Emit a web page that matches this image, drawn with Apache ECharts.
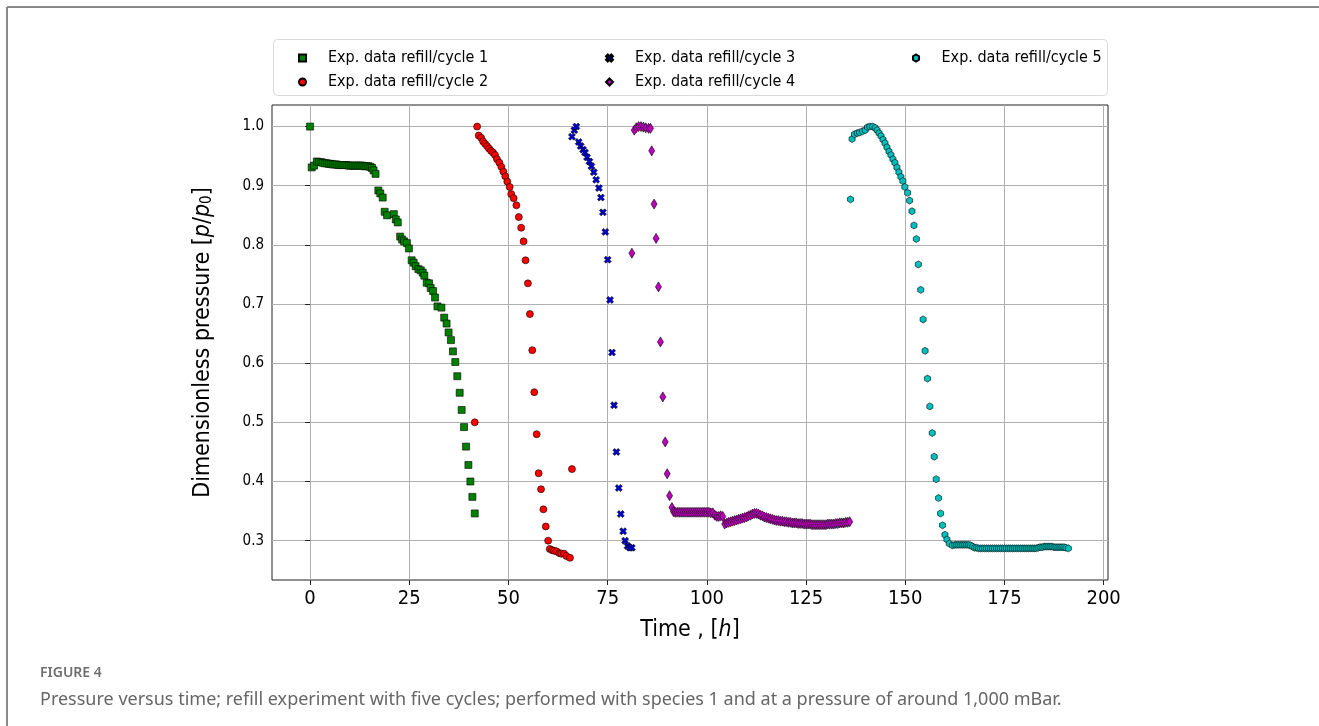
<!DOCTYPE html>
<html>
<head>
<meta charset="utf-8">
<script src="https://cdn.jsdelivr.net/npm/echarts@6/dist/echarts.min.js"></script>
<style>
  html, body { margin: 0; padding: 0; background: #fff; }
  #chart { width: 1319px; height: 726px; }
</style>
</head>
<body>
<div id="chart"></div>
<script>
// refill cycles, time [h] and p/p0
const cycle1T = [0, 0.4, 1.0, 1.7, 2.2, 2.7, 3.2, 3.7, 4.2, 4.7, 5.2, 5.7, 6.2, 6.7, 7.2, 7.7, 8.2, 8.7, 9.2, 9.7, 10.2, 10.7, 11.2, 11.7, 12.2, 12.7, 13.2, 13.7, 14.2, 14.7, 15.2, 15.6, 16.0, 16.5,
  17.2, 17.7, 18.3, 18.8, 19.4, 21.1, 21.6, 22.1, 22.7, 23.2, 23.7, 24.4, 24.9, 25.6, 26.1, 26.6, 27.3, 27.9, 28.4, 28.8, 29.4, 30.0, 30.4, 31.0, 31.5, 32.1, 33.1, 33.8,
  34.4, 34.9, 35.5, 36.0, 36.6, 37.1, 37.7, 38.2, 38.8, 39.3, 39.9, 40.4, 40.9, 41.5];
const cycle1P = [1.000, 0.931, 0.934, 0.941, 0.940, 0.940, 0.939, 0.938, 0.938, 0.937, 0.937, 0.936, 0.936, 0.936, 0.935, 0.935, 0.935, 0.935, 0.935, 0.934, 0.934, 0.934, 0.934, 0.934, 0.934, 0.934, 0.934, 0.933, 0.933, 0.933, 0.932, 0.930, 0.926, 0.920,
  0.892, 0.887, 0.880, 0.856, 0.850, 0.852, 0.843, 0.838, 0.814, 0.809, 0.806, 0.803, 0.794, 0.774, 0.770, 0.764, 0.759, 0.757, 0.753, 0.748, 0.736, 0.735, 0.727, 0.722, 0.711, 0.696, 0.694, 0.677,
  0.667, 0.652, 0.639, 0.620, 0.602, 0.578, 0.550, 0.521, 0.492, 0.459, 0.428, 0.400, 0.374, 0.346];

const cycle2T = [41.5, 42.1, 42.5, 43.1, 43.6, 44.1, 44.6, 45.1, 45.6, 46.1, 46.6, 47.1, 47.7, 48.2, 48.7, 49.2, 49.7, 50.3, 50.7, 51.3, 52.0, 52.6, 53.2, 53.8, 54.3,
  54.9, 55.4, 56.0, 56.5, 57.1, 57.6, 58.2, 58.8, 59.4, 60.0, 60.4, 61.0, 61.5, 62.1, 62.8, 63.3, 64.0, 64.6, 65.5, 66.0];
const cycle2P = [0.500, 1.000, 0.985, 0.981, 0.975, 0.971, 0.967, 0.963, 0.959, 0.956, 0.952, 0.945, 0.939, 0.932, 0.924, 0.916, 0.907, 0.898, 0.886, 0.879, 0.867, 0.847, 0.829, 0.806, 0.774,
  0.735, 0.683, 0.622, 0.551, 0.480, 0.414, 0.387, 0.353, 0.324, 0.300, 0.286, 0.284, 0.283, 0.282, 0.279, 0.278, 0.278, 0.274, 0.271, 0.421];

const cycle3T = [66.0, 66.6, 67.1, 67.7, 68.2, 68.8, 69.3, 69.8, 70.4, 70.9, 71.5, 72.1, 72.8, 73.3, 73.8, 74.4, 75.0, 75.6, 76.1, 76.6, 77.2, 77.8, 78.3, 78.9, 79.4, 80.0, 80.6, 81.1];
const cycle3P = [0.983, 0.994, 1.000, 0.974, 0.967, 0.961, 0.956, 0.948, 0.941, 0.933, 0.923, 0.910, 0.896, 0.880, 0.855, 0.822, 0.775, 0.707, 0.618, 0.529, 0.450, 0.389, 0.345, 0.316, 0.300, 0.291, 0.288, 0.288];

const cycle4T = [81.1, 81.7, 82.2, 82.8, 83.4, 84.0, 84.6, 85.3, 85.8, 86.1, 86.7, 87.2, 87.8, 88.3, 88.9, 89.5, 90.0, 90.6, 91.2,
  91.6, 92.0, 92.5, 93.0, 93.5, 94.0, 94.5, 95.0, 95.5, 96.0, 96.5, 97.0, 97.5, 98.0, 98.5, 99.0, 99.5, 100.0, 100.5, 101.0, 101.5,
  102.0, 102.5, 103.0, 103.5, 104.0, 104.5, 105.0, 105.5, 106.0, 106.5, 107.0, 107.5, 108.0, 108.5, 109.0, 109.5, 110.0, 110.5,
  111.0, 111.5, 112.0, 112.5, 113.0, 113.5, 114.0, 114.5, 115.0, 115.5, 116.0, 116.5, 117.0, 117.5, 118.0, 118.5, 119.0, 119.5,
  120.0, 120.5, 121.0, 121.5, 122.0, 122.5, 123.0, 123.5, 124.0, 124.5, 125.0, 125.5, 126.0, 126.5, 127.0, 127.5, 128.0, 128.5,
  129.0, 129.5, 130.0, 130.5, 131.0, 131.5, 132.0, 132.5, 133.0, 133.5, 134.0, 134.5, 135.0, 135.5, 136.0];
const cycle4P = [0.786, 0.994, 0.998, 1.000, 1.000, 0.999, 0.998, 0.997, 0.997, 0.959, 0.869, 0.811, 0.729, 0.636, 0.543, 0.467, 0.413, 0.376, 0.356,
  0.349, 0.348, 0.348, 0.348, 0.348, 0.348, 0.348, 0.348, 0.348, 0.348, 0.348, 0.348, 0.348, 0.348, 0.348, 0.348, 0.348, 0.348, 0.348, 0.347, 0.347,
  0.343, 0.341, 0.341, 0.342, 0.341, 0.328, 0.330, 0.331, 0.332, 0.333, 0.334, 0.335, 0.336, 0.337, 0.338, 0.339, 0.340, 0.342,
  0.343, 0.345, 0.346, 0.346, 0.345, 0.343, 0.342, 0.340, 0.339, 0.338, 0.337, 0.336, 0.335, 0.334, 0.334, 0.333, 0.333, 0.332,
  0.332, 0.331, 0.331, 0.330, 0.330, 0.330, 0.329, 0.329, 0.329, 0.328, 0.328, 0.328, 0.328, 0.327, 0.327, 0.327, 0.327, 0.327,
  0.327, 0.327, 0.327, 0.328, 0.328, 0.328, 0.328, 0.329, 0.329, 0.330, 0.330, 0.330, 0.331, 0.331, 0.332];

const cycle5T = [136.2, 136.6, 137.2, 137.9, 138.5, 139.2, 139.9, 140.5, 141.1, 141.8, 142.4, 142.9, 143.4, 143.9, 144.4, 144.9, 145.4, 145.9, 146.4, 146.9,
  147.4, 147.9, 148.4, 148.9, 149.4, 149.9, 150.6, 151.1, 151.7, 152.2, 152.8, 153.3, 153.9, 154.5, 155.0, 155.6, 156.2, 156.8, 157.3, 157.8,
  158.4, 158.9, 159.4, 160.0, 160.5, 161.1, 161.9, 162.5, 163.0, 163.5, 164.0, 164.5, 165.0, 165.5, 166.0, 166.5, 167.0, 167.5, 168.0,
  168.5, 169.0, 169.5, 170.0, 170.5, 171.0, 171.5, 172.0, 172.5, 173.0, 173.5, 174.0, 174.5, 175.0, 175.5, 176.0, 176.5, 177.0, 177.5,
  178.0, 178.5, 179.0, 179.5, 180.0, 180.5, 181.0, 181.5, 182.0, 182.5, 183.0, 183.5, 184.0, 184.5, 185.0, 185.5, 186.0, 186.5, 187.0,
  187.5, 188.0, 188.5, 189.0, 189.5, 190.0, 190.5, 191.1];
const cycle5P = [0.877, 0.979, 0.987, 0.989, 0.990, 0.992, 0.994, 0.999, 1.000, 1.000, 0.998, 0.994, 0.989, 0.984, 0.978, 0.972, 0.965, 0.958, 0.952, 0.945,
  0.939, 0.931, 0.923, 0.915, 0.908, 0.898, 0.888, 0.875, 0.857, 0.833, 0.810, 0.767, 0.724, 0.674, 0.621, 0.574, 0.527, 0.482, 0.442, 0.404,
  0.372, 0.346, 0.326, 0.310, 0.302, 0.295, 0.292, 0.293, 0.293, 0.293, 0.293, 0.293, 0.293, 0.293, 0.293, 0.292, 0.290, 0.288, 0.288,
  0.287, 0.287, 0.287, 0.287, 0.287, 0.287, 0.287, 0.287, 0.287, 0.287, 0.287, 0.287, 0.287, 0.287, 0.287, 0.287, 0.287, 0.287, 0.287,
  0.287, 0.287, 0.287, 0.287, 0.287, 0.287, 0.287, 0.287, 0.287, 0.287, 0.287, 0.288, 0.289, 0.289, 0.290, 0.290, 0.290, 0.290, 0.290,
  0.289, 0.289, 0.289, 0.289, 0.289, 0.289, 0.288, 0.287];

const xTicks = [0, 25, 50, 75, 100, 125, 150, 175, 200];
const yTicks = [0.3, 0.4, 0.5, 0.6, 0.7, 0.8, 0.9, 1.0];
const names = ['Exp. data refill/cycle 1', 'Exp. data refill/cycle 2', 'Exp. data refill/cycle 3', 'Exp. data refill/cycle 4', 'Exp. data refill/cycle 5'];

const xSym = 'path://M-1,-2L0,-1L1,-2L2,-1L1,0L2,1L1,2L0,1L-1,2L-2,1L-1,0L-2,-1Z';
const hexSym = 'path://M0,-1L0.866,-0.5L0.866,0.5L0,1L-0.866,0.5L-0.866,-0.5Z';

const FONT = '"Liberation Sans Narrow", "DejaVu Sans Condensed", "Liberation Sans", sans-serif';

function pairs(t, p) {
  return t.map((v, i) => [v, p[i]]);
}

let myChart = echarts.init(document.getElementById('chart'));

const mk = (name, t, p, symbol, size, color) => ({
  name: name,
  type: 'scatter',
  data: pairs(t, p),
  symbol: symbol,
  symbolSize: size,
  symbolKeepAspect: true,
  itemStyle: { color: color, borderColor: '#000', borderWidth: 0.6, opacity: 1 },
  emphasis: { disabled: true },
  z: 3
});

const legendBase = {
  orient: 'vertical',
  top: 45,
  itemWidth: 7,
  itemHeight: 7,
  itemGap: 8,
  selectedMode: false,
  textStyle: { fontFamily: FONT, fontSize: 16, color: '#000', lineHeight: 16, padding: [0, 0, 0, 17] }
};

myChart.setOption({
  backgroundColor: '#fff',
  animation: false,
  grid: {
    left: 272, right: 211, top: 105, bottom: 146,
    show: true, borderColor: '#222', borderWidth: 1
  },
  legend: [
    Object.assign({}, legendBase, { left: 293, data: [names[0], names[1]] }),
    Object.assign({}, legendBase, { left: 600, data: [names[2], names[3]] }),
    Object.assign({}, legendBase, { left: 907, data: [names[4]] })
  ],
  xAxis: {
    type: 'value',
    min: -9.6,
    max: 201.1,
    name: 'Time , [{i|h}]',
    nameLocation: 'middle',
    nameGap: 39,
    nameTextStyle: {
      fontFamily: FONT, fontSize: 23, color: '#000',
      rich: { i: { fontFamily: FONT, fontSize: 23, fontStyle: 'italic' } }
    },
    axisLine: { show: false },
    axisTick: { show: true, length: 5, customValues: xTicks, lineStyle: { color: '#222' } },
    axisLabel: { customValues: xTicks, margin: 9, fontFamily: FONT, fontSize: 20, color: '#000' },
    splitLine: { show: true, lineStyle: { color: '#b0b0b0', width: 1 } }
  },
  yAxis: {
    type: 'value',
    min: 0.2335,
    max: 1.0365,
    name: 'Dimensionless pressure [{i|p}/{i|p}{s|0}]',
    nameLocation: 'middle',
    nameGap: 57,
    nameTextStyle: {
      fontFamily: FONT, fontSize: 23, color: '#000',
      rich: {
        i: { fontFamily: FONT, fontSize: 23, fontStyle: 'italic' },
        s: { fontFamily: FONT, fontSize: 15, verticalAlign: 'bottom', padding: [8, 0, 0, 0] }
      }
    },
    axisLine: { show: false },
    axisTick: { show: true, length: 5, customValues: yTicks, lineStyle: { color: '#222' } },
    axisLabel: {
      customValues: yTicks, margin: 8, fontFamily: FONT, fontSize: 15, color: '#000',
      formatter: v => v.toFixed(1)
    },
    splitLine: { show: true, lineStyle: { color: '#b0b0b0', width: 1 } }
  },
  graphic: [
    { type: 'line', shape: { x1: 7, y1: 7, x2: 1319, y2: 7 }, style: { stroke: '#8a8a8a', lineWidth: 2 }, silent: true },
    { type: 'line', shape: { x1: 7, y1: 7, x2: 7, y2: 726 }, style: { stroke: '#8a8a8a', lineWidth: 2 }, silent: true },
    { type: 'rect', shape: { x: 273.5, y: 39.5, width: 834, height: 56, r: 4 }, style: { fill: '#fff', stroke: '#d9d9d9', lineWidth: 1 }, z: -1, silent: true },
    { type: 'text', left: 40, top: 666, style: { text: 'FIGURE 4', fill: '#6e6e6e', font: '600 14px "Noto Sans", sans-serif' }, silent: true },
    { type: 'text', left: 40, top: 691, style: { text: 'Pressure versus time; refill experiment with five cycles; performed with species 1 and at a pressure of around 1,000 mBar.', fill: '#666', font: '18px "Noto Sans", sans-serif' }, silent: true }
  ],
  series: [
    mk(names[0], cycle1T, cycle1P, 'rect', 7, '#008000'),
    mk(names[1], cycle2T, cycle2P, 'circle', 7, '#ff0000'),
    mk(names[2], cycle3T, cycle3P, xSym, 7, '#0000cc'),
    mk(names[3], cycle4T, cycle4P, 'diamond', [6, 10], '#bf00bf'),
    mk(names[4], cycle5T, cycle5P, hexSym, 7, '#00bfbf')
  ]
});
</script>
</body>
</html>
